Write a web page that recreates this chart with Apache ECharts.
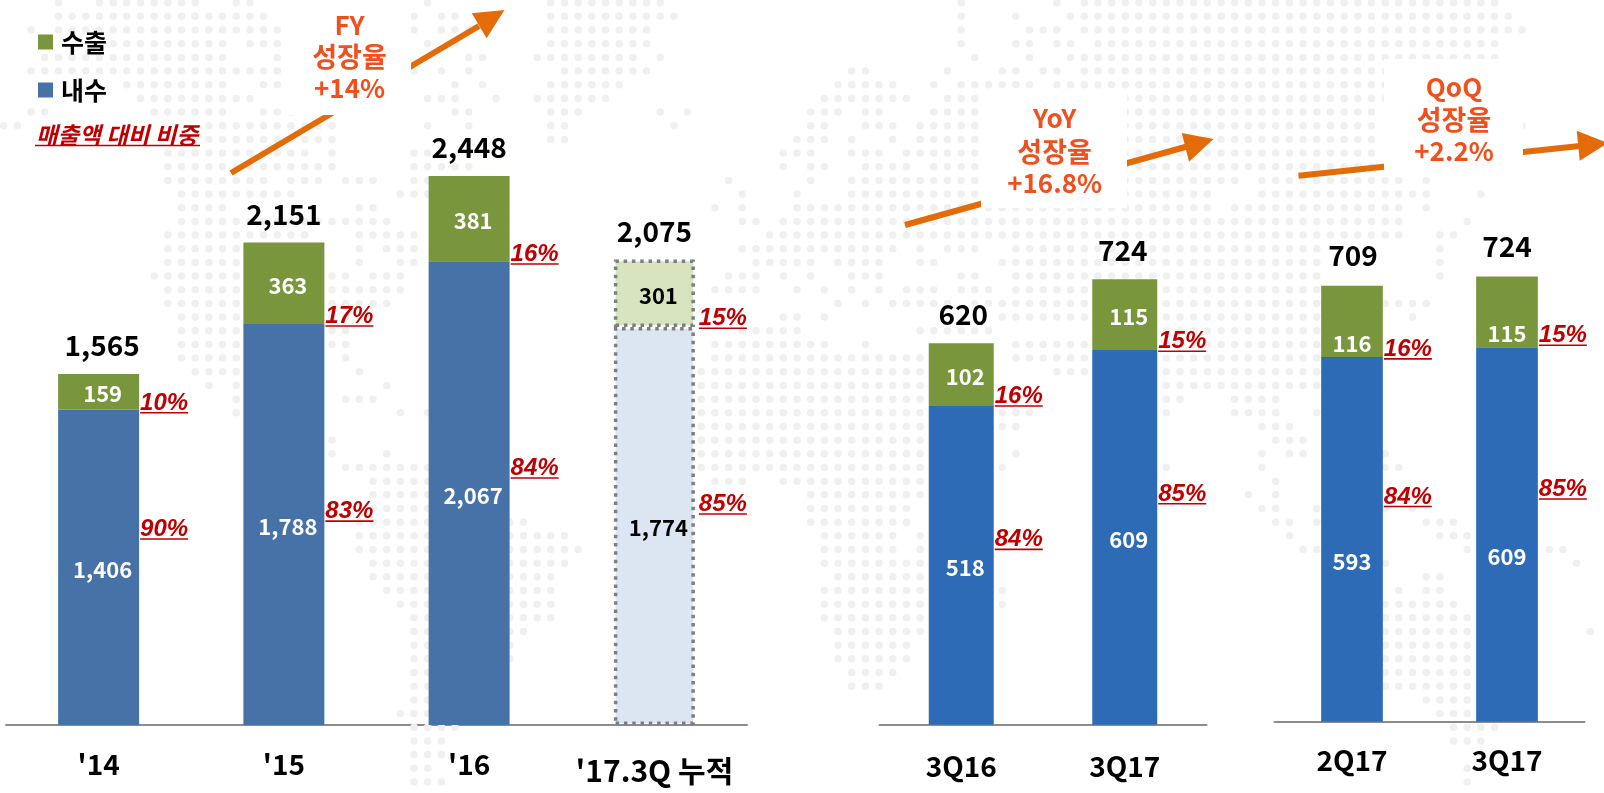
<!DOCTYPE html>
<html><head><meta charset="utf-8">
<script src="https://cdn.jsdelivr.net/npm/echarts@6/dist/echarts.min.js"></script>
<style>html,body{margin:0;padding:0;background:#fff}#c{width:1604px;height:793px}</style></head>
<body><div id="c"></div>
<script>
// ---- data
const annualCats = ["'14","'15","'16","'17.3Q 누적"];
const annualDomestic = [1406,1788,2067,1774];
const annualExport = [159,363,381,301];
const annualTotal = [1565,2151,2448,2075];
const annualExportShare = ['10%','17%','16%','15%'];
const annualDomesticShare = ['90%','83%','84%','85%'];
const annualExportShareAt = [1392,1779,2055,1769];
const annualDomesticShareAt = [829,909,1101,941];

const yoyCats = ['3Q16','3Q17'];
const yoyDomestic = [518,609];
const yoyExport = [102,115];
const yoyTotal = [620,724];
const yoyExportShare = ['16%','15%'];
const yoyDomesticShare = ['84%','85%'];
const yoyExportShareAt = [518,607];
const yoyDomesticShareAt = [285,359];

const qoqCats = ['2Q17','3Q17'];
const qoqDomestic = [593,609];
const qoqExport = [116,115];
const qoqTotal = [709,724];
const qoqExportShare = ['16%','15%'];
const qoqDomesticShare = ['84%','85%'];
const qoqExportShareAt = [590,612];
const qoqDomesticShareAt = [350,362];

const legendNames = ['수출','내수'];
const shareNote = '매출액 대비 비중';
const fyLines = ['FY','성장율','+14%'];
const yoyLines = ['YoY','성장율','+16.8%'];
const qoqLines = ['QoQ','성장율','+2.2%'];

// decorative dotted world map, one string per row: column runs
const mapRows = [
'4 7-14 17-18 31 40-48 70 77 79-109','4-19 30 32-33 40-49 70 74 78-110','2 4-20 30 32-34 40-47 70 75-77 79-111',
'8-16 18-20 31 33 40-47 70 74-75 77-78 80-109','3-16 20 34-35 39-46 48 71 75 78-109','2-20 30 32 34 41-47 62-63 69 73-74 76-77 79-109',
'9-16 19-20 33 35 40-45 61-65 68 70-75 77-109','10-18 31-33 36 39-44 60-66 69-109','2-3 11-16 19-21 33-34 40-42 48 50 59-61 63-64 68-100',
'0-1 15-24 31 34 40-41 49 59-60 63-65 67-100 111','15-24 40-41 58-60 62 65 67-100','12-22 24 30-31 34 57-59 62-64 66-100',
'12-24 30-34 57 59-60 63-66 68-100','12-19 21-23 25-27 30-31 53 59 62-90 92-102 104','13-21 29-31 54 58 62-88 92-104 108',
'13-16 26-27 52 54 58-88 90-102 104','13-28 54-55 57-102 107','12-22 26-30 56-102 105-106',
'12-17 26 28-30 54-65 67 69-71 74-96 105','12-17 26 29-30 55-59 61-64 67-68 73-96 105','11-17 24-25 27-29 53-55 57 59 62-64 70-71 74-96 105',
'12-17 24-29 52-55 58 60 62 64 66-68 70-72 74-96','12-17 24-28 61 63 65-69 71-98 101-104','13-17 24-25 57-58 60 73-98 103',
'13-17 24-25 54-58 67-72 84-96','13-17 24-25 52-60 63 74-79 84-96','13-17 25 52-72 74-79 85-96',
'14-17 26 51-72 77-79 85-96','15 17 28 51-67 85-96','17 25-27 51-67 73 85-86 90-93',
'17 29 31 51-67 73-75 85 90-93 96','51-67 73-74 92-94','24 51-67 93-95',
'24 28 51-67 74 92 94-95 101','25-31 51-67 73 85 92 101-102','27-31 52-54 57-67 93',
'27-31 59-67 91 93','27-31 59-66 92-93 96 101 103','26-31 37-38 59-66 93-94 96 104-106',
'26-31 37-41 60-65 67 94 105-107','26-31 37-42 60-65 67 95-96 107 113-114','27-31 37-41 60-67 101 115',
'27-31 37-40 61-67 104-105','28-31 37-40 60-67 73 102 104-105','29-31 37-40 60-67 73 101-106',
'30-31 37-40 60-67 101-107','30-31 37-38 61-67 101-107 116','30-31 37 61-66 101-107',
'30-31 37 61-66 101-107','30-31 62-65 101-107','30-31 62-64 101-107',
'30-31 104-107','29-31 105-107','30-33 106-109','30-32 106-108','30-32','30-31 107','30-32 107'
];

// ---- build
const FONT = '"Noto Sans CJK KR","Noto Sans",sans-serif';
const GREEN = '#7a963c', RED = '#c00000', ORANGE = '#e36c09', GROWTH = '#f0501e';
const mapDots = [];
mapRows.forEach((row, r) => row.split(' ').forEach(run => {
  const [a, b] = run.split('-').map(Number);
  for (let c = a; c <= (b === undefined ? a : b); c++) mapDots.push([c, r]);
}));

const grids = [
  {left:6, width:741, top:52.1, height:672.9},
  {left:879.5, width:327, top:109.4, height:615.3},
  {left:1274.5, width:310, top:106.7, height:615},
  {left:3.7, width:1602.9, top:2.7, height:779.2}
];
const maxes = [3000,1000,1000];
const xAxes = [annualCats,yoyCats,qoqCats].map((cats,i)=>({
  gridIndex:i, type:'category', data:cats,
  axisTick:{show:false},
  axisLine:{lineStyle:{color:'#8c8c8c',width:2}},
  axisLabel:{
    interval:0, margin:i===2?25:(i===1?28:25), color:'#000', fontFamily:FONT, fontWeight:700, fontSize:28,
    formatter:v=>v.indexOf('누적')>=0?'{low|'+v+'}':v,
    rich:{low:{color:'#000',fontFamily:FONT,fontWeight:700,fontSize:30,padding:[6,0,0,0]}}
  }
}));
xAxes.push({gridIndex:3,type:'value',min:0,max:117,show:false});
const yAxes = maxes.map((m,i)=>({gridIndex:i,type:'value',min:0,max:m,show:false}));
yAxes.push({gridIndex:3,type:'value',min:0,max:57,inverse:true,show:false});

function shareSeries(i, labels, anchors, barW){
  return {
    type:'custom', xAxisIndex:i, yAxisIndex:i, z:6, silent:true,
    data:anchors.map((v,k)=>[k,v]),
    encode:{x:0,y:1},
    renderItem:(p,api)=>{
      const pt = api.coord([api.value(0),api.value(1)]);
      const shift = (i===0 && p.dataIndex===3) ? 4 : 1;
      const x0 = pt[0]+barW/2+shift, y = pt[1];
      return {type:'group',children:[
        {type:'text',style:{text:labels[p.dataIndex],x:x0+24,y:y-9.5,textAlign:'center',textVerticalAlign:'middle',
          fill:RED,font:'italic bold 24px "Liberation Sans",sans-serif'}},
        {type:'line',shape:{x1:x0,y1:y,x2:x0+48,y2:y},style:{stroke:RED,lineWidth:1.6}}
      ]};
    }
  };
}
function stack(i, domestic, exp, total, domesticColor, barW, off, lightIdx, totalShift, totalGap){
  const lbl = {show:true,position:'inside',offset:off,color:'#fff',fontFamily:FONT,fontWeight:700,fontSize:22,
    formatter:p=>Number(p.value).toLocaleString('en-US')};
  const item = (vals,c,light)=>vals.map((v,k)=>k===lightIdx?{
    value:v,
    itemStyle:{color:light,borderColor:'#7f7f7f',borderWidth:3.5,borderType:[3.5,4.8]},
    label:{color:'#000'}
  }:{value:v});
  return [
    {name:legendNames[1],type:'bar',xAxisIndex:i,yAxisIndex:i,stack:'s'+i,barWidth:barW,z:3,silent:true,
      itemStyle:{color:domesticColor},data:item(domestic,domesticColor,'#dce6f2'),label:lbl},
    {name:legendNames[0],type:'bar',xAxisIndex:i,yAxisIndex:i,stack:'s'+i,barWidth:barW,z:3,silent:true,
      itemStyle:{color:GREEN},data:item(exp,GREEN,'#d8e3bf'),label:lbl},
    {type:'scatter',xAxisIndex:i,yAxisIndex:i,symbolSize:1,z:5,silent:true,itemStyle:{color:'rgba(0,0,0,0)',opacity:1},
      data:total.map((v,k)=>({value:[k,v],label:{offset:[totalShift[k],0]}})),
      label:{show:true,position:'top',distance:totalGap,color:'#000',fontFamily:FONT,fontWeight:700,fontSize:28,
        formatter:p=>p.value[1].toLocaleString('en-US')}}
  ];
}

const series = [
  {type:'scatter',xAxisIndex:3,yAxisIndex:3,symbol:'circle',symbolSize:7.5,z:0,silent:true,
    itemStyle:{color:'#f0f0f0',opacity:1},data:mapDots},
  ...stack(0,annualDomestic,annualExport,annualTotal,'#4672a8',81,[4,2],3,[3.5,0,0,0],14),
  ...stack(1,yoyDomestic,yoyExport,yoyTotal,'#2e6bb6',65,[4,2],-1,[2,-2],14),
  ...stack(2,qoqDomestic,qoqExport,qoqTotal,'#2e6bb6',61.7,[0,22],-1,[1,0],16),
  shareSeries(0,annualExportShare,annualExportShareAt,81),
  shareSeries(0,annualDomesticShare,annualDomesticShareAt,81),
  shareSeries(1,yoyExportShare,yoyExportShareAt,65),
  shareSeries(1,yoyDomesticShare,yoyDomesticShareAt,65),
  shareSeries(2,qoqExportShare,qoqExportShareAt,61.7),
  shareSeries(2,qoqDomesticShare,qoqDomesticShareAt,61.7)
];

function arrow(x1,y1,x2,y2,head){
  return [
    {type:'line',z:1,silent:true,shape:{x1,y1,x2,y2},style:{stroke:ORANGE,lineWidth:6}},
    {type:'polygon',z:1,silent:true,shape:{points:head},style:{fill:ORANGE}}
  ];
}
function box(x,y,w,h){ return {type:'rect',z:1.5,silent:true,shape:{x,y,width:w,height:h},style:{fill:'#fff'}}; }
function growth(lines,cx,ys){
  return lines.map((t,i)=>({type:'text',z:7,silent:true,style:{text:t,x:cx,y:ys[i],textAlign:'center',textVerticalAlign:'middle',
    fill:GROWTH,font:(i===1?'700 27px':'700 26px')+' "Noto Sans CJK KR",sans-serif'}}));
}
const graphicEls = [
  ...arrow(231,173,479,26,[[504.5,10],[471.8,13.3],[486.6,38.3]]),
  ...arrow(905,225,1187,146.5,[[1213.6,139],[1181.8,133],[1189,161.7]]),
  ...arrow(1298.5,175.7,1580,146,[[1608,143],[1576.7,130.7],[1579.7,160.7]]),
  box(285,0,126,115), box(981,92,146,116), box(1384,59,139,112),
  ...growth(fyLines,349.5,[25,57,88.5]),
  ...growth(yoyLines,1054.6,[118,151.7,182.7]),
  ...growth(qoqLines,1454,[87,120,150.7]),
  {type:'text',z:7,silent:true,style:{text:shareNote,x:36,y:135,textAlign:'left',textVerticalAlign:'middle',
    fill:RED,font:'italic 700 23.5px "Noto Sans CJK KR",sans-serif'}},
  {type:'line',z:7,silent:true,shape:{x1:35,y1:145.5,x2:200,y2:145.5},style:{stroke:RED,lineWidth:1.6}}
];

const chart = echarts.init(document.getElementById('c'),null,{renderer:'canvas'});
chart.setOption({
  animation:false, backgroundColor:'#fff',
  grid:grids, xAxis:xAxes, yAxis:yAxes, series,
  legend:{data:legendNames.map(n=>({name:n,icon:'rect'})),orient:'vertical',left:33,top:22,itemWidth:15,itemHeight:15,itemGap:18,
    selectedMode:false,textStyle:{color:'#000',fontFamily:FONT,fontWeight:700,fontSize:25,padding:[0,0,0,3],lineHeight:30}},
  graphic:{elements:graphicEls},
  tooltip:{show:false}
});
</script></body></html>
